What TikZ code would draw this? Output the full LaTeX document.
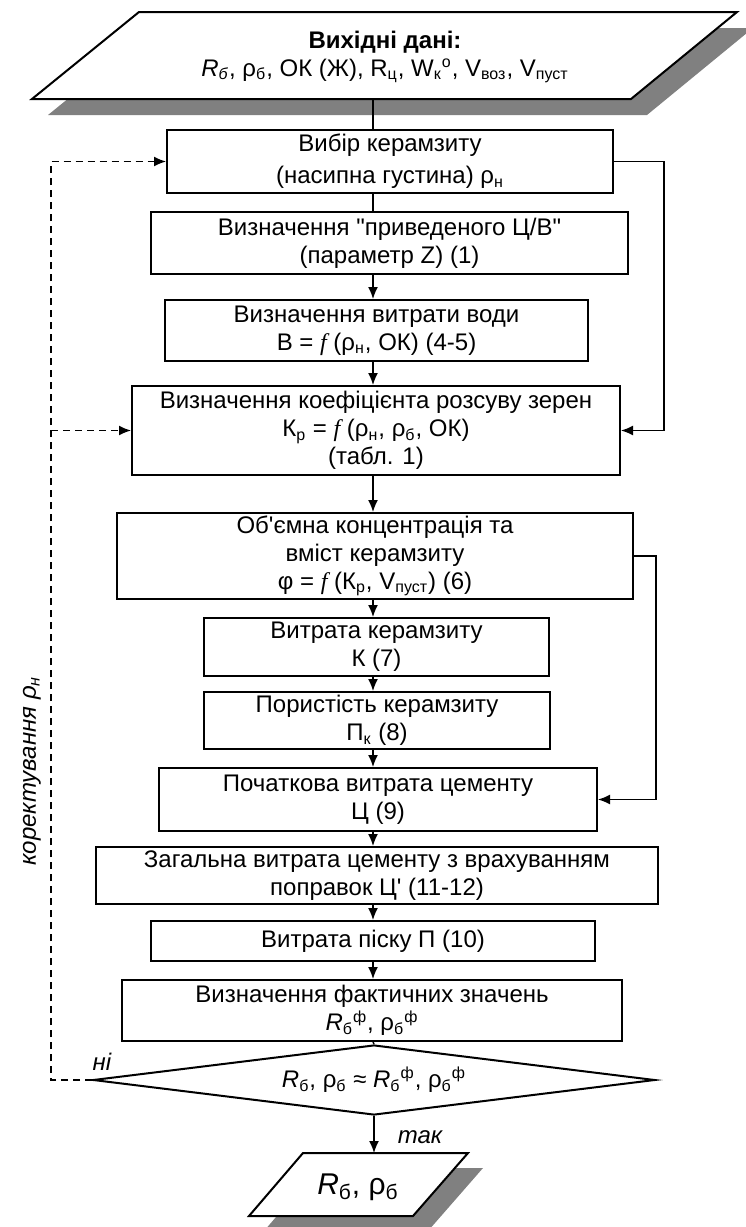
\documentclass[tikz,border=0pt]{standalone}
\usepackage{fontspec}
\setmainfont{Liberation Sans}
\newfontfamily\serfont{Liberation Serif}
\newcommand{\fital}{{\serfont\itshape f}}
\usetikzlibrary{shapes.geometric,arrows.meta}

\begin{document}
\begin{tikzpicture}[x=0.5pt,y=-0.5pt,>={Latex[length=6pt,width=5pt]},line width=0.75pt,
  every node/.style={font=\fontsize{12}{14}\selectfont},
  blk/.style={draw,fill=white,line width=1pt,align=center,inner sep=0pt},
  lbl/.style={font=\fontsize{12}{14}\selectfont\itshape},
  fb/.style={dash pattern=on 3.5pt off 2.5pt},
  shd/.style={fill=black!50}]
\useasboundingbox (0,0) rectangle (745,1227);

% input data
\fill[shd] (155,28) -- (753,28) -- (647,115) -- (48,115) -- cycle;
\draw[fill=white,line width=1pt] (139,12) -- (737,12) -- (631,99) -- (32,99) -- cycle;
\node[align=center] (vkhid) at (385,57) {\textbf{Вихідні дані:}\\
  \textit{R}\textsubscript{\textit{б}}, ρ\textsubscript{б}, ОК (Ж), R\textsubscript{ц}, W\textsubscript{к}\textsuperscript{о}, V\textsubscript{воз}, V\textsubscript{пуст}};
\coordinate (vkhidb) at (373,99);
\coordinate (col) at (373,0);

% main chain
\node[blk,minimum width=223pt,minimum height=31.5pt] (vybir) at (390,161.5) {Вибір керамзиту\\[2pt](насипна густина) ρ\textsubscript{н}};
\node[blk,minimum width=238.5pt,minimum height=31pt] (vyznZ) at (389.5,243) {Визначення \textquotedbl приведеного Ц/В\textquotedbl\\(параметр Z) (1)};
\node[blk,minimum width=211.5pt,minimum height=30.5pt] (voda) at (376.5,330.5) {Визначення витрати води\\В = \fital{} (ρ\textsubscript{н}, ОК) (4-5)};
\node[blk,minimum width=244pt,minimum height=44.5pt] (kozf) at (376,430.5) {Визначення коефіцієнта розсуву зерен\\К\textsubscript{р} = \fital{} (ρ\textsubscript{н}, ρ\textsubscript{б}, ОК)\\(табл. 1)};
\node[blk,minimum width=258pt,minimum height=43pt] (obem) at (375,556) {Об\textquotesingle ємна концентрація та\\вміст керамзиту\\φ = \fital{} (К\textsubscript{р}, V\textsubscript{пуст}) (6)};
\node[blk,minimum width=172.5pt,minimum height=29pt] (vytk) at (376.5,647) {Витрата керамзиту\\К (7)};
\node[blk,minimum width=173pt,minimum height=28.5pt] (por) at (377,720.5) {Пористість керамзиту\\П\textsubscript{к} (8)};
\node[blk,minimum width=219pt,minimum height=31.5pt] (poch) at (378,799.5) {Початкова витрата цементу\\Ц (9)};
\node[blk,minimum width=281pt,minimum height=28.5pt] (zag) at (377,875.5) {Загальна витрата цементу з врахуванням\\поправок Ц\textquotesingle{} (11-12)};
\node[blk,minimum width=222pt,minimum height=20pt] (pisok) at (373,941) {Витрата піску П (10)};
\node[blk,minimum width=250pt,minimum height=30.5pt] (fakt) at (372,1010.5) {Визначення фактичних значень\\\textit{R}\textsubscript{б}\textsuperscript{ф}, ρ\textsubscript{б}\textsuperscript{ф}};
\node[blk,diamond,aspect=8,minimum width=281pt,minimum height=35pt] (umova) at (374,1080) {\textit{R}\textsubscript{б}, ρ\textsubscript{б} ≈ \textit{R}\textsubscript{б}\textsuperscript{ф}, ρ\textsubscript{б}\textsuperscript{ф}};

% result
\fill[shd] (318,1168) -- (483,1168) -- (428,1231) -- (264,1231) -- cycle;
\draw[fill=white,line width=1pt] (303,1153) -- (468,1153) -- (413,1216) -- (249,1216) -- cycle;
\node[font=\fontsize{15}{17}\selectfont] (rez) at (358,1187) {\textit{R}\textsubscript{б}, ρ\textsubscript{б}};
\coordinate (rezt) at (370,1153);

% connectors
\draw (vkhidb) -- (vybir.north -| vkhidb);
\draw (vybir.south -| col) -- (vyznZ.north -| col);
\foreach \a/\b in {vyznZ/voda,voda/kozf,kozf/obem,obem/vytk,vytk/por,por/poch,poch/zag,zag/pisok,pisok/fakt}
  \draw[->] (\a.south -| col) -- (\b.north -| col);
\draw (fakt.south -| col) -- (umova.north);
\draw[->] (umova.south) -- (umova.south |- rezt);

\coordinate (rt1) at (664,0);
\coordinate (rt2) at (656,0);
\draw[->] (vybir.east) -| (rt1 |- kozf.east) -- (kozf.east);
\draw[->] (obem.east) -| (rt2 |- poch.east) -- (poch.east);

\coordinate (lft) at (51,0);
\draw[fb,->] (umova.west) -| (lft |- vybir.west) -- (vybir.west);
\draw[fb,->] (lft |- kozf.west) -- (kozf.west);

\node[lbl,rotate=90] (kor) at (32,771) {коректування ρ\textsubscript{н}};
\node[lbl] (ni) at (102,1062) {ні};
\node[lbl] (tak) at (420,1137) {так};

\end{tikzpicture}
\end{document}
